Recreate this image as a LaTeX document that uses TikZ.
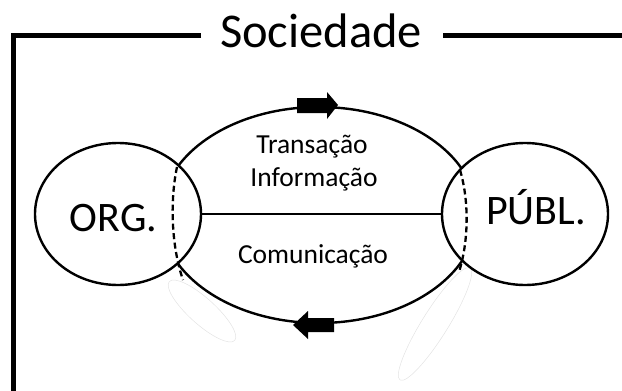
\documentclass[tikz,border=0pt]{standalone}
\usepackage{fontspec}
\setmainfont{Carlito}
\usepackage{tikz}
\usetikzlibrary{shapes.geometric}

\tikzset{
    circ/.style={ellipse, draw, line width=2.4pt, fill=white, inner sep=0pt, minimum width=166pt, minimum height=142pt},
    ghost/.style={ellipse, draw=gray!22, line width=0.5pt, inner sep=0pt},
    frame/.style={line width=5pt, line join=miter},
    border/.style={line width=2.3pt, dash pattern=on 6pt off 3.5pt},
    small/.style={font=\fontsize{27.5}{33}\selectfont, anchor=base},
    large/.style={font=\fontsize{42}{50}\selectfont, anchor=base},
}

\begin{document}
\begin{tikzpicture}[x=1pt, y=-1pt]
    \useasboundingbox (0,0) rectangle (622,391);

    % Define nodes
    \node[ghost, minimum width=88pt, minimum height=26pt, rotate=-42] (ghostL) at (202,311) {};
    \node[ghost, minimum width=132pt, minimum height=26pt, rotate=58] (ghostR) at (435,324) {};
    \node[ellipse, draw, line width=2.4pt, inner sep=0pt, minimum width=316pt, minimum height=216pt] (ciclo) at (319,215) {};
    \node[circ] (org) at (118,214) {};
    \node[circ] (publ) at (525,214) {};
    \node[font=\fontsize{48.5}{58}\selectfont, anchor=base] (sociedade) at (321,47) {Sociedade};
    \node[large] (orgtxt) at (113.5,231) {ORG.};
    \node[large] (publtxt) at (536,224) {PÚBL.};
    \node[small] (transacao) at (312,153) {Transação};
    \node[small] (informacao) at (314,186) {Informação};
    \node[small] (comunicacao) at (313,263) {Comunicação};
    \coordinate (corner) at (13.5,35);
    \coordinate (toptip) at (338,105);
    \coordinate (bottip) at (293,325);

    % Draw frame
    \draw[frame] (201,35) -- (corner) -- (13.5,391);
    \draw[frame] (443,35) -- (622,35);

    % Draw hidden parts
    \draw[border] (177,167) .. controls (170,200) and (171,245) .. (183,280);
    \draw[border] (460,170) .. controls (469,200) and (469,240) .. (459,272);

    % Draw link
    \draw[line width=2.6pt] (org.east) -- (publ.west);

    % Draw arrows
    \fill (toptip) -- ++(-11,-13) -- ++(0,6) -- ++(-30,0) -- ++(0,15) -- ++(30,0) -- ++(0,6) -- cycle;
    \fill (bottip) -- ++(15,-14) -- ++(0,7) -- ++(26,0) -- ++(0,14) -- ++(-26,0) -- ++(0,7) -- cycle;
\end{tikzpicture}
\end{document}
